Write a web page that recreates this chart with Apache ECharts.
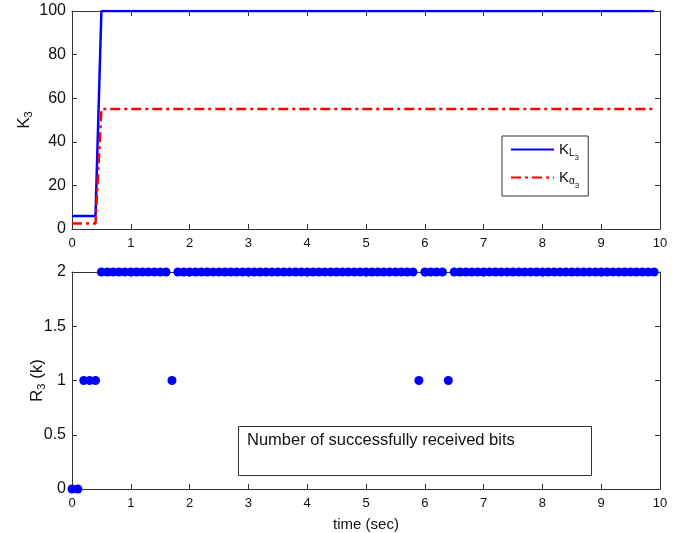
<!DOCTYPE html>
<html>
<head>
<meta charset="utf-8">
<script src="https://cdn.jsdelivr.net/npm/echarts@6/dist/echarts.min.js"></script>
<style>
html,body{margin:0;padding:0;background:#fff;}
#chart{width:682px;height:533px;}
</style>
</head>
<body>
<div id="chart"></div>
<script>
// gain curves (top plot)
var kTime=[0,0.4,0.5,9.9];
var kL3=[6,6,100,100];
var kAlpha3=[2.5,2.5,55,55];

// received bits, one sample every 0.1 s (bottom plot)
var bitTime=[
    0.0,0.1,0.2,0.3,0.4,0.5,0.6,0.7,0.8,0.9,
    1.0,1.1,1.2,1.3,1.4,1.5,1.6,1.7,1.8,1.9,
    2.0,2.1,2.2,2.3,2.4,2.5,2.6,2.7,2.8,2.9,
    3.0,3.1,3.2,3.3,3.4,3.5,3.6,3.7,3.8,3.9,
    4.0,4.1,4.2,4.3,4.4,4.5,4.6,4.7,4.8,4.9,
    5.0,5.1,5.2,5.3,5.4,5.5,5.6,5.7,5.8,5.9,
    6.0,6.1,6.2,6.3,6.4,6.5,6.6,6.7,6.8,6.9,
    7.0,7.1,7.2,7.3,7.4,7.5,7.6,7.7,7.8,7.9,
    8.0,8.1,8.2,8.3,8.4,8.5,8.6,8.7,8.8,8.9,
    9.0,9.1,9.2,9.3,9.4,9.5,9.6,9.7,9.8,9.9
];
var bitCount=[
    0,0,1,1,1,2,2,2,2,2,
    2,2,2,2,2,2,2,1,2,2,
    2,2,2,2,2,2,2,2,2,2,
    2,2,2,2,2,2,2,2,2,2,
    2,2,2,2,2,2,2,2,2,2,
    2,2,2,2,2,2,2,2,2,1,
    2,2,2,2,1,2,2,2,2,2,
    2,2,2,2,2,2,2,2,2,2,
    2,2,2,2,2,2,2,2,2,2,
    2,2,2,2,2,2,2,2,2,2
];
var xTicks=[0,10,1];
var kTicks=[0,100,20];
var rTicks=[0,2,0.5];

var FONT='Liberation Sans, Arial, sans-serif';
var AX='#333';

function zip(a,b){
    var out=[];
    for(var i=0;i<a.length;i++){ out.push([a[i],b[i]]); }
    return out;
}

function xAx(grid,pos,labels,name){
    return {
        type:'value',gridIndex:grid,position:pos,
        min:xTicks[0],max:xTicks[1],interval:xTicks[2],
        name:name||'',nameLocation:'middle',nameGap:28,nameMoveOverlap:false,
        nameTextStyle:{fontFamily:FONT,fontSize:15,color:'#111'},
        axisLine:{show:true,onZero:false,lineStyle:{color:AX,width:1}},
        axisTick:{show:true,inside:true,length:5,lineStyle:{color:AX}},
        axisLabel:{show:labels,fontFamily:FONT,fontSize:13,color:'#111',margin:8},
        splitLine:{show:false}
    };
}
function yAx(grid,pos,t,labels,name,gap){
    return {
        type:'value',gridIndex:grid,position:pos,
        min:t[0],max:t[1],interval:t[2],
        name:name||'',nameLocation:'middle',nameGap:gap||30,nameMoveOverlap:false,
        nameTextStyle:{
            fontFamily:FONT,fontSize:16,color:'#111',
            rich:{
                k:{fontFamily:FONT,fontSize:17,color:'#111'},
                s:{fontFamily:FONT,fontSize:11,color:'#111',padding:[9,0,0,0]}
            }
        },
        axisLine:{show:true,onZero:false,lineStyle:{color:AX,width:1}},
        axisTick:{show:true,inside:true,length:5,lineStyle:{color:AX}},
        axisLabel:{show:labels,fontFamily:FONT,fontSize:16,color:'#111',margin:6},
        splitLine:{show:false}
    };
}

var myChart=echarts.init(document.getElementById('chart'));
var option={
    backgroundColor:'#fff',
    animation:false,
    grid:[
        {left:72,top:11,width:588,height:218},
        {left:72,top:272,width:588,height:217}
    ],
    xAxis:[
        xAx(0,'bottom',true),
        xAx(0,'top',false),
        xAx(1,'bottom',true,'time (sec)'),
        xAx(1,'top',false)
    ],
    yAxis:[
        yAx(0,'left',kTicks,true,'{k|K}{s|3}',38),
        yAx(0,'right',kTicks,false),
        yAx(1,'left',rTicks,true,'{k|R}{s|3}{k| (k)}',25),
        yAx(1,'right',rTicks,false)
    ],
    legend:{
        orient:'vertical',left:502,top:136,
        data:['KL3','Ka3'],
        itemWidth:43,itemHeight:14,itemGap:8,
        itemStyle:{opacity:0},
        padding:[6,9,6,8],
        borderColor:'#333',borderWidth:1,backgroundColor:'#fff',
        formatter:function(n){
            return n==='KL3' ? '{k|K}{s|L}{ss|3}' : '{k|K}{s|α}{ss|3}';
        },
        textStyle:{
            fontFamily:FONT,fontSize:15,color:'#111',
            rich:{
                k:{fontFamily:FONT,fontSize:15,color:'#111'},
                s:{fontFamily:FONT,fontSize:10,color:'#111',padding:[8,0,0,0]},
                ss:{fontFamily:FONT,fontSize:8,color:'#111',padding:[17,0,0,0]}
            }
        }
    },
    series:[
        {
            name:'KL3',type:'line',xAxisIndex:0,yAxisIndex:0,
            data:zip(kTime,kL3),symbol:'none',
            lineStyle:{color:'#0000ff',width:2.5},itemStyle:{color:'#0000ff'}
        },
        {
            name:'Ka3',type:'line',xAxisIndex:0,yAxisIndex:0,
            data:zip(kTime,kAlpha3),symbol:'none',
            lineStyle:{color:'#ff0000',width:2.5,type:[10,4,3,4]},itemStyle:{color:'#ff0000'}
        },
        {
            name:'bits',type:'scatter',xAxisIndex:2,yAxisIndex:2,
            data:zip(bitTime,bitCount),symbolSize:9,
            itemStyle:{color:'#0000ff',opacity:1}
        }
    ],
    graphic:[
        {
            type:'rect',left:238,top:426,z:10,
            shape:{width:353,height:49},
            style:{fill:'#fff',stroke:'#333',lineWidth:1}
        },
        {
            type:'text',left:247,top:432,z:11,
            style:{text:'Number of successfully received bits',fontFamily:FONT,fontSize:16.5,fill:'#111'}
        }
    ]
};
myChart.setOption(option);
</script>
</body>
</html>
